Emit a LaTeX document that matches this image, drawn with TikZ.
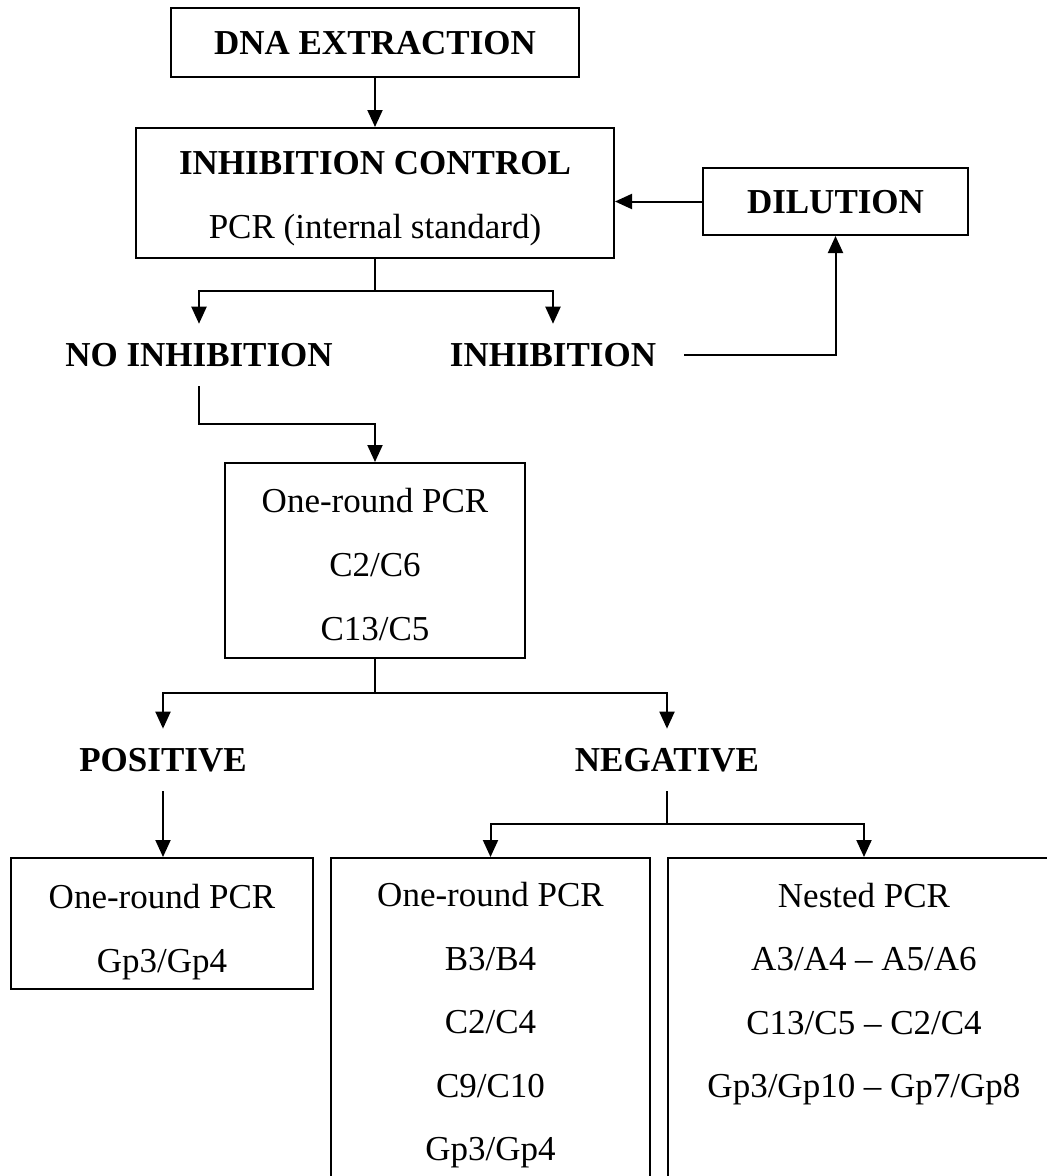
\documentclass[tikz,border=0pt]{standalone}
\usepackage{fontspec}
\setmainfont{Liberation Serif}
\usetikzlibrary{arrows.meta}
\begin{document}
\begin{tikzpicture}[x=1pt,y=-1pt,
  box/.style={draw, line width=2pt, inner sep=0pt, align=center, font=\fontsize{35}{64}\selectfont},
  lbl/.style={inner sep=0pt, outer xsep=28pt, outer ysep=19.5pt, font=\bfseries\fontsize{35}{42}\selectfont},
  txt/.style={align=center, inner sep=0pt, font=\fontsize{35}{63.5}\selectfont},
  line/.style={line width=2pt},
  arr/.style={line, -{Triangle[length=17pt,width=15pt]}}]
\path[use as bounding box] (0,0) rectangle (1047,1176);
\fill[white] (0,0) rectangle (1047,1176);
\clip (0,0) rectangle (1047,1176);

% boxes
\node[box, minimum width=408pt, minimum height=69pt] (dna) at (375,42.5) {};
\node[txt, font=\bfseries\fontsize{35}{42}\selectfont] (dnat) at (375,43.5) {DNA EXTRACTION};
\node[box, minimum width=478pt, minimum height=130pt] (ctrl) at (375,193) {};
\node[txt, font=\fontsize{35}{64}\selectfont] (ctrlt) at (375,199) {{\bfseries INHIBITION CONTROL}\\PCR (internal standard)};
\node[box, minimum width=265pt, minimum height=67pt] (dil) at (835.5,201.5) {};
\node[txt, font=\bfseries\fontsize{35}{42}\selectfont] (dilt) at (835.5,202.5) {DILUTION};
\node[lbl] (noinh) at (199,355) {NO INHIBITION};
\node[lbl] (inh) at (553,355) {INHIBITION};
\node[box, minimum width=300pt, minimum height=195pt] (one) at (375,560.5) {};
\node[txt, font=\fontsize{35}{64}\selectfont] (onet) at (375,564.5) {One-round PCR\\C2/C6\\C13/C5};
\node[lbl] (pos) at (163,760) {POSITIVE};
\node[lbl] (neg) at (667,760) {NEGATIVE};
\node[box, minimum width=302pt, minimum height=131pt] (b1) at (162,923.5) {};
\node[txt, font=\fontsize{35}{64.5}\selectfont] (t1) at (162,932) {One-round PCR\\Gp3/Gp4};
\node[box, minimum width=319pt, minimum height=342pt] (b2) at (490.5,1029) {};
\node[box, minimum width=392pt, minimum height=342pt] (b3) at (864,1029) {};
\node[txt] (t2) at (490.5,1025.5) {One-round PCR\\B3/B4\\C2/C4\\C9/C10\\Gp3/Gp4};
\node[txt] (t3) at (864,994) {Nested PCR\\A3/A4 -- A5/A6\\C13/C5 -- C2/C4\\Gp3/Gp10 -- Gp7/Gp8};

% junctions
\coordinate (j1) at (375,291);
\coordinate (j2) at (375,424);
\coordinate (j3) at (375,693);
\coordinate (j4) at (667,824);

% connectors
\draw[arr] (dna) -- (ctrl);
\draw[arr] (dil.west) -- (dil.west -| ctrl.east);
\draw[line] (ctrl.south) -- (j1);
\draw[arr] (j1) -| (noinh.north);
\draw[arr] (j1) -| (inh.north);
\draw[arr] (inh.east) -| (dil.south);
\draw[arr] (noinh.south) |- (j2) -- (one.north);
\draw[line] (one.south) -- (j3);
\draw[arr] (j3) -| (pos.north);
\draw[arr] (j3) -| (neg.north);
\draw[arr] (pos.south) -- (pos.south |- b1.north);
\draw[line] (neg.south) -- (j4);
\draw[arr] (j4) -| (b2.north);
\draw[arr] (j4) -| (b3.north);
\end{tikzpicture}
\end{document}
